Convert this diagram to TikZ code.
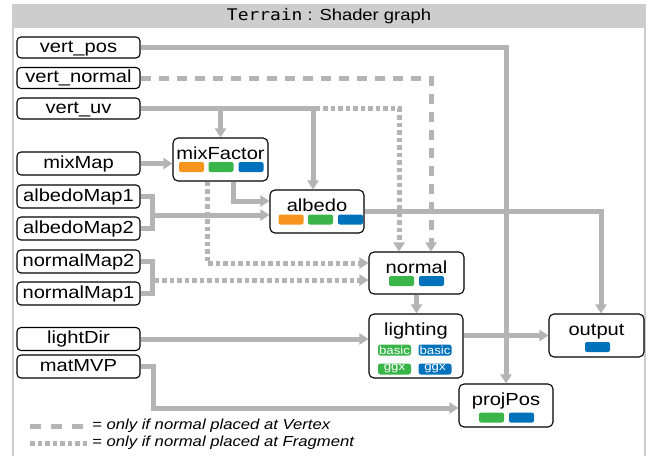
\documentclass[tikz,border=0pt]{standalone}
\usepackage{fontspec}
\setmainfont{Liberation Sans}[FakeStretch=1.15]
\setmonofont{DejaVu Sans Mono}[FakeStretch=1.12]
\usetikzlibrary{arrows.meta}
\definecolor{lg}{RGB}{180,180,180}
\definecolor{frameg}{RGB}{205,205,205}
\definecolor{sorange}{RGB}{247,148,30}
\definecolor{sgreen}{RGB}{57,181,74}
\definecolor{sblue}{RGB}{0,114,188}
\tikzset{
  inbox/.style={draw, rounded corners=4pt, line width=1.1pt, minimum width=123pt, minimum height=23pt, inner sep=0pt, text height=12.5pt, text depth=3.5pt, font=\fontsize{17.5}{19}\selectfont},
  opbox/.style={draw, rounded corners=5pt, line width=1.1pt, inner sep=0pt},
  lbl/.style={inner sep=0pt, anchor=base, font=\fontsize{17.5}{19}\selectfont},
  sw/.style={rounded corners=2pt, minimum width=25pt, minimum height=10pt, inner sep=0pt},
  badge/.style={rounded corners=2.5pt, minimum width=33pt, minimum height=11pt, inner sep=0pt, text=white, font=\fontsize{11.5}{11.5}\selectfont},
  wire/.style={draw=lg, line width=5pt},
  arr/.style={wire, -{Triangle[width=11pt,length=9pt]}},
  vdash/.style={dash pattern=on 10pt off 8pt},
  fdot/.style={dash pattern=on 4.5pt off 3pt},
}
\begin{document}
\begin{tikzpicture}[x=1pt,y=-1pt]
\useasboundingbox (0,0) rectangle (652,456);
% frame
\fill[frameg] (12,4) rectangle (646,28);
\draw[frameg, line width=1.5pt] (13,28) -- (13,456);
\draw[frameg, line width=1.5pt] (645,28) -- (645,456);
\node[inner sep=0pt, font=\fontsize{16}{18}\selectfont] (title) at (329,16) {\texttt{Terrain} : Shader graph};

% input nodes
\node[inbox, minimum height=21pt] (vp) at (78.5,47.5) {vert\_pos};
\node[inbox, minimum height=21pt] (vn) at (78.5,78) {vert\_normal};
\node[inbox, minimum height=21pt] (vu) at (78.5,108.5) {vert\_uv};
\node[inbox] (mm) at (78.5,163.5) {mixMap};
\node[inbox] (am1) at (78.5,196.5) {albedoMap1};
\node[inbox] (am2) at (78.5,228.5) {albedoMap2};
\node[inbox] (nm2) at (78.5,261.5) {normalMap2};
\node[inbox] (nm1) at (78.5,293.5) {normalMap1};
\node[inbox] (ld) at (78.5,339) {lightDir};
\node[inbox] (mvp) at (78.5,366.5) {matMVP};

% operation nodes
\node[opbox, minimum width=95pt, minimum height=43pt] (mf) at (220.5,159.5) {};
\node[lbl] (mft) at (220.5,159) {mixFactor};
\node[sw, fill=sorange] (mfo) at (191.5,167) {};
\node[sw, fill=sgreen] (mfg) at (221,167) {};
\node[sw, fill=sblue] (mfb) at (251,167) {};

\node[opbox, minimum width=94pt, minimum height=43pt] (al) at (317,211.5) {};
\node[lbl] (alt) at (317,211) {albedo};
\node[sw, fill=sorange] (alo) at (291,219.5) {};
\node[sw, fill=sgreen] (alg) at (320.5,219.5) {};
\node[sw, fill=sblue] (alb) at (350.5,219.5) {};

\node[opbox, minimum width=95pt, minimum height=42pt] (nrm) at (416.5,273) {};
\node[lbl] (nrmt) at (416.5,273) {normal};
\node[sw, fill=sgreen] (nrmg) at (401.5,281) {};
\node[sw, fill=sblue] (nrmb) at (431.5,281) {};

\node[opbox, minimum width=94pt, minimum height=64pt] (lt) at (416,346) {};
\node[lbl] (ltt) at (416,335) {lighting};
\node[badge, fill=sgreen] (lbg) at (394.5,350) {basic};
\node[badge, fill=sblue] (lbb) at (435,350) {basic};
\node[badge, fill=sgreen] (lgg) at (394.5,369) {ggx};
\node[badge, fill=sblue] (lgb) at (435,369) {ggx};

\node[opbox, minimum width=95pt, minimum height=43pt] (out) at (596.5,335.5) {};
\node[lbl] (outt) at (596.5,335.5) {output};
\node[sw, fill=sblue] (outb) at (597.5,347) {};

\node[opbox, minimum width=94pt, minimum height=43pt] (pp) at (506,405.5) {};
\node[lbl] (ppt) at (506,405) {projPos};
\node[sw, fill=sgreen] (ppg) at (491.5,417.5) {};
\node[sw, fill=sblue] (ppb) at (521.5,417.5) {};

% wires
\draw[arr] (vp.east) -| (pp.north);
\draw[arr, vdash] (vn.east) -| ([xshift=14.5pt]nrm.north);
\draw[arr] (vu.east) -| ([xshift=-4pt]al.north);
\draw[arr] (vu.east -| mf.north) -- (mf.north);
\path ([xshift=-4pt]al.north |- vu.east) coordinate (uvc);
\draw[arr, fdot] ([xshift=2.5pt]uvc) -| ([xshift=-17.5pt]nrm.north);
\draw[arr] (mm.east) -- (mm.east -| mf.west);
\draw[arr] ([xshift=12.5pt]mf.south) |- ([yshift=10.5pt]al.west);
\draw[wire] (am1.east) -- ++(12,0) |- (am2.east);
\coordinate (amj) at (152,215);
\draw[arr] (amj) -- (amj -| al.west);
\draw[arr] (al.east) -| ([xshift=4.5pt]out.north);
\draw[arr, fdot] ([xshift=-13.5pt]mf.south) |- ([yshift=10pt]nrm.west);
\draw[wire] (nm2.east) -- ++(12,0) |- (nm1.east);
\coordinate (nmj) at (154.5,280);
\draw[arr, fdot] (nmj) -- (nmj -| nrm.west);
\draw[arr] (nrm.south) -- (nrm.south |- lt.north);
\draw[arr] (ld.east) -- (ld.east -| lt.west);
\draw[arr] (out.west -| lt.east) -- (out.west);
\draw[arr] (mvp.east) -- ++(13,0) |- ([yshift=-2.5pt]pp.west);

% legend
\coordinate (lg1a) at (30,426);
\coordinate (lg1b) at (86,426);
\coordinate (lg2a) at (30,443);
\coordinate (lg2b) at (88,443);
\draw[wire, dash pattern=on 11pt off 10pt] (lg1a) -- (lg1b);
\draw[wire, fdot] (lg2a) -- (lg2b);
\node[anchor=west, inner sep=0pt, font=\fontsize{14.5}{16}\selectfont\itshape] (leg1) at (92,426) {= only if normal placed at Vertex};
\node[anchor=west, inner sep=0pt, font=\fontsize{14.5}{16}\selectfont\itshape] (leg2) at (92,443) {= only if normal placed at Fragment};
\end{tikzpicture}
\end{document}
